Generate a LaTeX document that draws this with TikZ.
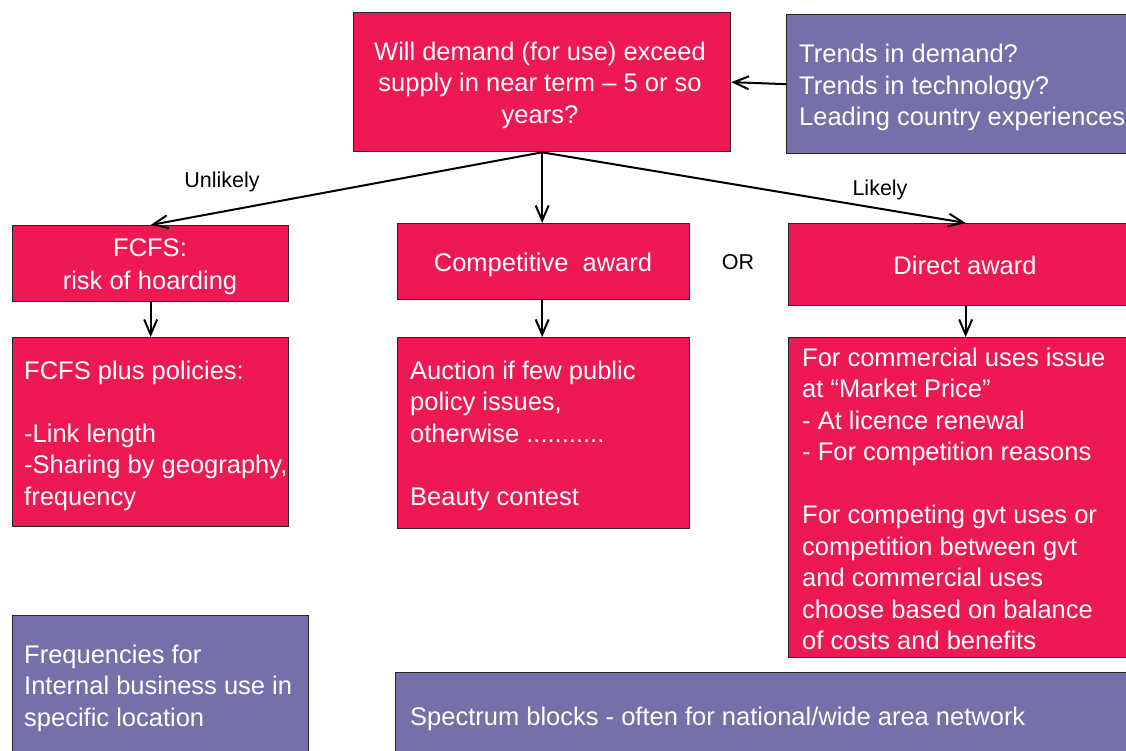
\documentclass[tikz,border=0pt]{standalone}
\usepackage{fontspec}
\setmainfont{Liberation Sans}
\usetikzlibrary{arrows.meta}
\definecolor{boxred}{RGB}{238,24,82}
\definecolor{boxpurple}{RGB}{118,112,170}
\begin{document}
\begin{tikzpicture}[x=1pt,y=-1pt,
  box/.style={draw=black!85, line width=1.3pt, inner sep=0pt, anchor=north west},
  redbox/.style={box, fill=boxred},
  purplebox/.style={box, fill=boxpurple},
  boxtext/.style={text=white, inner sep=0pt, font=\fontsize{25.5}{31.5}\selectfont},
  lbl/.style={text=black, inner sep=0pt, anchor=base, font=\fontsize{21.5}{26}\selectfont},
  flow/.style={draw=black, line width=2pt, -{Straight Barb[length=15pt,width=13pt]}}
]
\clip (0,0) rectangle (1126,751);

% boxes
\node[redbox, minimum width=377pt, minimum height=139pt] (q) at (353,12) {};
\node[purplebox, minimum width=360pt, minimum height=139pt] (trends) at (786,14) {};
\node[redbox, minimum width=276pt, minimum height=76pt] (fcfs) at (12,225) {};
\node[redbox, minimum width=292pt, minimum height=76pt] (comp) at (397,223) {};
\node[redbox, minimum width=354pt, minimum height=82pt] (direct) at (788,223) {};
\node[redbox, minimum width=276pt, minimum height=189pt] (fcfsplus) at (12,337) {};
\node[redbox, minimum width=292pt, minimum height=191pt] (auction) at (397,337) {};
\node[redbox, minimum width=354pt, minimum height=320pt] (commercial) at (788,337) {};
\node[purplebox, minimum width=296pt, minimum height=160pt] (freq) at (12,615) {};
\node[purplebox, minimum width=760pt, minimum height=100pt] (spectrum) at (395,672) {};

% box texts (first baseline sits one strut height below the anchor)
\node[boxtext, anchor=north, align=center] (qtxt) at (540,37.95)
  {\strut Will demand (for use) exceed\\supply in near term -- 5 or so\\years?};
\node[boxtext, anchor=north west, align=left] (trendstxt) at (799,40.6)
  {\strut Trends in demand?\\Trends in technology?\\Leading country experiences};
\node[boxtext, anchor=north, align=center, font=\fontsize{25.5}{32.6}\selectfont] (fcfstxt) at (150,233.9)
  {\strut FCFS:\\risk of hoarding};
\node[boxtext, anchor=base] (comptxt) at (543,271.5) {Competitive\ \ award};
\node[boxtext, anchor=base] (directtxt) at (965,274.3) {Direct award};
\node[boxtext, anchor=north west, align=left] (fcfsplustxt) at (24,357.2)
  {\strut FCFS plus policies:\\[31.5pt]-Link length\\-Sharing by geography,\\frequency};
\node[boxtext, anchor=north west, align=left] (auctiontxt) at (410,357.2)
  {\strut Auction if few public\\policy issues,\\otherwise ...........\\[31.5pt]Beauty contest};
\node[boxtext, anchor=north west, align=left] (commercialtxt) at (802,343.9)
  {\strut For commercial uses issue\\at \char"201C Market Price\char"201D\\- At licence renewal\\- For competition reasons\\[31.5pt]For competing gvt uses or\\competition between gvt\\and commercial uses\\choose based on balance\\of costs and benefits};
\node[boxtext, anchor=north west, align=left] (freqtxt) at (24,641.2)
  {\strut Frequencies for\\Internal business use in\\specific location};
\node[boxtext, anchor=base west] (spectrumtxt) at (410,725)
  {Spectrum blocks - often for national/wide area network};

% connector labels
\node[lbl] (unlikely) at (222,187.3) {Unlikely};
\node[lbl] (likely) at (880,196) {Likely};
\node[lbl] (or) at (738,269.3) {OR};

% connectors
\draw[flow] (trends.west) -- (q.east);
\draw[flow] (q.south) -- (fcfs.north);
\draw[flow] (q.south) -- (q.south |- comp.north);
\draw[flow] (q.south) -- (direct.north);
\draw[flow] (fcfs.south) -- (fcfsplus.north);
\draw[flow] (comp.south -| q.south) -- (q.south |- auction.north);
\draw[flow] (direct.south) -- (commercial.north);
\end{tikzpicture}
\end{document}
